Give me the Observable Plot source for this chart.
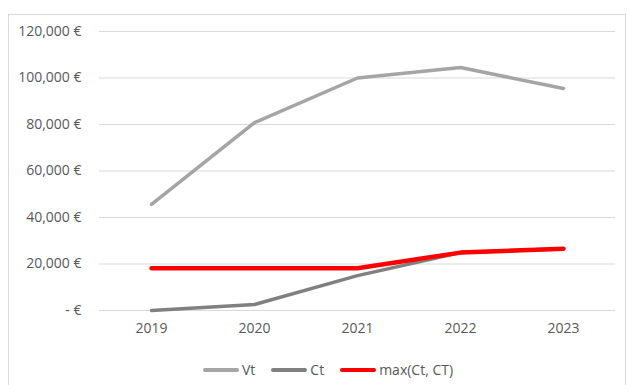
<!DOCTYPE html>
<html>
<head>
<meta charset="utf-8">
<script src="https://cdn.jsdelivr.net/npm/d3@7"></script>
<script src="https://cdn.jsdelivr.net/npm/@observablehq/plot@0.6"></script>
<style>
  html, body { margin: 0; padding: 0; background: #fff; }
  #frame { position: absolute; left: 8px; top: 14px; width: 616px; height: 380px; border: 1px solid #d9d9d9; background: #fff; overflow: hidden; }
  #chart { position: absolute; left: 0; top: 0; }
  #legend { position: absolute; left: 194px; top: 345px; display: flex; align-items: center; font: 14px "Open Sans", sans-serif; color: #595959; line-height: 20px; }
  .item { display: flex; align-items: center; margin-right: 16px; }
  .sw { width: 36px; height: 4px; border-radius: 2px; margin-right: 3px; }
</style>
</head>
<body>
<div id="frame"><div id="chart"></div><div id="legend"></div></div>
<script>
const years = ["2019", "2020", "2021", "2022", "2023"];
const vt = [45600, 80800, 100000, 104500, 95500];
const ct = [0, 2600, 15000, 24900, 26600];
const maxCt = [18200, 18200, 18200, 24900, 26600];
const yTicks = [0, 20000, 40000, 60000, 80000, 100000, 120000];
const seriesNames = ["Vt", "Ct", "max(Ct, CT)"];
const seriesColors = ["#a5a5a5", "#808080", "#ff0000"];
const seriesWidths = [3.5, 3.5, 4.5];

const seriesValues = [vt, ct, maxCt];
const rows = seriesNames.flatMap((name, i) => years.map((y, j) => ({series: name, year: y, value: seriesValues[i][j]})));

const fmt = d => d === 0 ? "- €" : d3.format(",")(d) + " €";

const chart = Plot.plot({
  width: 616,
  height: 340,
  marginLeft: 90,
  marginRight: 10,
  marginTop: 16,
  marginBottom: 45,
  style: { fontFamily: "'Open Sans', sans-serif", fontSize: "14px", color: "#595959", background: "#fff" },
  x: { type: "point", domain: years, padding: 0.5, label: null, tickSize: 0, tickPadding: 13 },
  y: { domain: [0, 120000], ticks: yTicks, tickFormat: fmt, label: null, tickSize: 0, tickPadding: 18 },
  marks: [
    Plot.gridY(yTicks, { stroke: "#d9d9d9", strokeOpacity: 1, strokeWidth: 1 }),
    ...seriesNames.map((name, i) => Plot.line(rows.filter(r => r.series === name), {
      x: "year", y: "value", stroke: seriesColors[i], strokeWidth: seriesWidths[i], strokeLinecap: "round", strokeLinejoin: "round"
    }))
  ]
});
document.getElementById("chart").appendChild(chart);

const legend = document.getElementById("legend");
seriesNames.forEach((name, i) => {
  const item = document.createElement("div");
  item.className = "item";
  const sw = document.createElement("div");
  sw.className = "sw";
  sw.style.background = seriesColors[i];
  item.appendChild(sw);
  const t = document.createElement("span");
  t.textContent = name;
  item.appendChild(t);
  legend.appendChild(item);
});
</script>
</body>
</html>
